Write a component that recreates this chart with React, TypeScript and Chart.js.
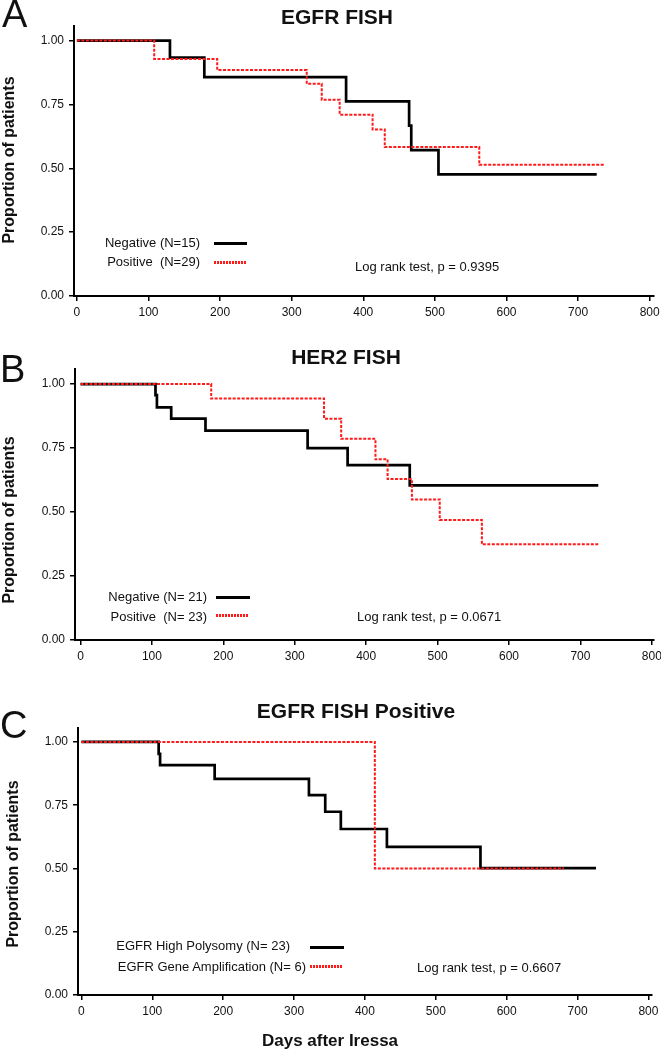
import React, { useEffect, useRef } from 'react';
import { Chart, registerables } from 'chart.js';
Chart.register(...registerables);

// ---------- data ----------
const xTickValues = [0, 100, 200, 300, 400, 500, 600, 700, 800];
const yTickValues = [0, 0.25, 0.5, 0.75, 1];

// Panel A: EGFR FISH
const aNegDays = [0, 130, 178, 376, 464, 467, 505, 726];
const aNegSurv = [1, 0.933, 0.857, 0.762, 0.667, 0.571, 0.476, 0.476];
const aPosDays = [0, 108, 196, 321, 342, 367, 413, 430, 562, 737];
const aPosSurv = [1, 0.928, 0.885, 0.831, 0.768, 0.71, 0.652, 0.583, 0.514, 0.514];

// Panel B: HER2 FISH
const bNegDays = [0, 105, 107, 127, 175, 318, 374, 461, 725];
const bNegSurv = [1, 0.957, 0.909, 0.865, 0.818, 0.75, 0.683, 0.604, 0.604];
const bPosDays = [0, 183, 341, 365, 413, 430, 464, 503, 562, 725];
const bPosSurv = [1, 0.944, 0.865, 0.786, 0.706, 0.629, 0.549, 0.469, 0.374, 0.374];

// Panel C: EGFR FISH Positive
const cNegDays = [0, 109, 111, 188, 321, 344, 366, 431, 563, 726];
const cNegSurv = [1, 0.953, 0.908, 0.854, 0.79, 0.724, 0.656, 0.585, 0.501, 0.501];
const cPosDays = [0, 414, 681];
const cPosSurv = [1, 0.5, 0.5];

const titles = ['EGFR FISH', 'HER2 FISH', 'EGFR FISH Positive'];
const letters = ['A', 'B', 'C'];
const negLabels = ['Negative (N=15)', 'Negative (N= 21)', 'EGFR High Polysomy (N= 23)'];
const posLabels = ['Positive  (N=29)', 'Positive  (N= 23)', 'EGFR Gene Amplification (N= 6)'];
const pTexts = ['Log rank test, p = 0.9395', 'Log rank test, p = 0.0671', 'Log rank test, p = 0.6607'];
const yAxisTitle = 'Proportion of patients';
const xAxisTitle = 'Days after Iressa';

// ---------- layout ----------
const W = 661;
const SANS = '"Liberation Sans", Arial, Helvetica, sans-serif';
const RED = '#ff1a1a';

type Panel = {
  top: number; height: number;
  area: { left: number; right: number; top: number; bottom: number };
  xMin: number; xMax: number; yMax: number;
  negDays: number[]; negSurv: number[]; posDays: number[]; posSurv: number[];
};

const panels: Panel[] = [
  { top: 0, height: 330, area: { left: 74, right: 654, top: 26, bottom: 296 }, xMin: -4, xMax: 806, yMax: 1.057,
    negDays: aNegDays, negSurv: aNegSurv, posDays: aPosDays, posSurv: aPosSurv },
  { top: 330, height: 350, area: { left: 75, right: 654, top: 39, bottom: 310 }, xMin: -7.7, xMax: 803, yMax: 1.059,
    negDays: bNegDays, negSurv: bNegSurv, posDays: bPosDays, posSurv: bPosSurv },
  { top: 680, height: 370, area: { left: 78, right: 652, top: 48, bottom: 315 }, xMin: -4.8, xMax: 805, yMax: 1.055,
    negDays: cNegDays, negSurv: cNegSurv, posDays: cPosDays, posSurv: cPosSurv },
];

// overlay positions (page coords)
const overlay = [
  { letter: { x: 2, y: 14 }, title: { x: 337, y: 16 }, yTitle: { x: 9, y: 160 },
    neg: { right: 200, y: 242, lx1: 214, lx2: 247, ly: 243 },
    pos: { right: 200, y: 261, lx1: 214, lx2: 247, ly: 262 },
    p: { x: 355, y: 266 } },
  { letter: { x: 0, y: 369 }, title: { x: 346, y: 356 }, yTitle: { x: 9, y: 520 },
    neg: { right: 207, y: 596, lx1: 216, lx2: 250, ly: 597 },
    pos: { right: 207, y: 616, lx1: 216, lx2: 248, ly: 615 },
    p: { x: 357, y: 616 } },
  { letter: { x: 0, y: 725 }, title: { x: 356, y: 710 }, yTitle: { x: 13, y: 864 },
    neg: { right: 290, y: 945, lx1: 310, lx2: 344, ly: 947 },
    pos: { right: 306, y: 966, lx1: 310, lx2: 342, ly: 966 },
    p: { x: 417, y: 967 } },
];

const Y_AXIS_W = 50;
const X_AXIS_H = 30;

// draws tick labels at fixed offsets from the axes
const tickLabels = {
  id: 'tickLabels',
  afterDraw(chart: any) {
    const ctx = chart.ctx;
    const xs = chart.scales.x;
    const ys = chart.scales.y;
    const area = chart.chartArea;
    ctx.save();
    ctx.fillStyle = '#111';
    ctx.font = `12px ${SANS}`;
    ctx.textBaseline = 'middle';
    ctx.textAlign = 'center';
    xTickValues.forEach((v) => {
      ctx.fillText(String(v), xs.getPixelForValue(v), area.bottom + 17);
    });
    ctx.textAlign = 'right';
    yTickValues.forEach((v) => {
      ctx.fillText(v.toFixed(2), area.left - 10, ys.getPixelForValue(v));
    });
    ctx.restore();
  },
};

function PanelChart({ p }: { p: Panel }) {
  const ref = useRef<HTMLCanvasElement | null>(null);
  useEffect(() => {
    if (!ref.current) return;
    const pts = (d: number[], s: number[]) => d.map((x, i) => ({ x, y: s[i] }));
    const chart = new Chart(ref.current, {
      type: 'line',
      data: {
        datasets: [
          { data: pts(p.posDays, p.posSurv), borderColor: RED, borderWidth: 2, borderDash: [3, 1.5],
            stepped: 'before', pointRadius: 0, fill: false, borderCapStyle: 'butt' },
          { data: pts(p.negDays, p.negSurv), borderColor: '#000', borderWidth: 2.7,
            stepped: 'before', pointRadius: 0, fill: false, borderCapStyle: 'butt' },
        ],
      } as any,
      options: {
        animation: false,
        responsive: false,
        events: [],
        layout: {
          padding: {
            left: p.area.left - Y_AXIS_W,
            right: W - p.area.right,
            top: p.area.top,
            bottom: p.height - p.area.bottom - X_AXIS_H,
          },
        },
        plugins: { legend: { display: false }, tooltip: { enabled: false }, title: { display: false } },
        scales: {
          x: {
            type: 'linear', min: p.xMin, max: p.xMax,
            afterBuildTicks: (s: any) => { s.ticks = xTickValues.map((v) => ({ value: v })); },
            afterFit: (s: any) => { s.height = X_AXIS_H; s.paddingLeft = 0; s.paddingRight = 0; },
            grid: { display: true, drawOnChartArea: false, drawTicks: true, tickLength: 5, color: '#000', lineWidth: 1.5 },
            border: { display: true, color: '#000', width: 2 },
            ticks: { display: false, autoSkip: false },
          },
          y: {
            type: 'linear', min: 0, max: p.yMax,
            afterBuildTicks: (s: any) => { s.ticks = yTickValues.map((v) => ({ value: v })); },
            afterFit: (s: any) => { s.width = Y_AXIS_W; s.paddingTop = 0; s.paddingBottom = 0; },
            grid: { display: true, drawOnChartArea: false, drawTicks: true, tickLength: 5, color: '#000', lineWidth: 1.5 },
            border: { display: true, color: '#000', width: 2 },
            ticks: { display: false, autoSkip: false },
          },
        },
      } as any,
      plugins: [tickLabels],
    });
    return () => chart.destroy();
  }, [p]);
  return (
    <canvas ref={ref} width={W} height={p.height}
      style={{ position: 'absolute', left: 0, top: p.top, width: W, height: p.height }} />
  );
}

function Txt({ x, y, size, bold, anchor, children }: any) {
  const style: any = {
    position: 'absolute', top: y - size / 2, fontSize: size, lineHeight: `${size}px`,
    fontFamily: SANS, fontWeight: bold ? 'bold' : 'normal', whiteSpace: 'pre', color: '#111',
  };
  if (anchor === 'right') style.right = W - x;
  else if (anchor === 'center') { style.left = x; style.transform = 'translateX(-50%)'; }
  else style.left = x;
  return <div style={style}>{children}</div>;
}

export default function App() {
  useEffect(() => {
    document.body.style.margin = '0';
  }, []);
  return (
    <div style={{ position: 'absolute', left: 0, top: 0, width: W, height: 1050, background: '#fff', overflow: 'hidden' }}>
      {panels.map((p, i) => <PanelChart key={i} p={p} />)}
      {overlay.map((o, i) => (
        <React.Fragment key={i}>
          <Txt x={o.letter.x} y={o.letter.y} size={38}>{letters[i]}</Txt>
          <Txt x={o.title.x} y={o.title.y} size={21} bold anchor="center">{titles[i]}</Txt>
          <div style={{ position: 'absolute', left: o.yTitle.x, top: o.yTitle.y, transform: 'translate(-50%,-50%) rotate(-90deg)',
            fontFamily: SANS, fontWeight: 'bold', fontSize: 16, lineHeight: '16px', whiteSpace: 'nowrap', color: '#111' }}>
            {yAxisTitle}
          </div>
          <Txt x={o.neg.right} y={o.neg.y} size={13} anchor="right">{negLabels[i]}</Txt>
          <Txt x={o.pos.right} y={o.pos.y} size={13} anchor="right">{posLabels[i]}</Txt>
          <div style={{ position: 'absolute', left: o.neg.lx1, top: o.neg.ly - 1.5, width: o.neg.lx2 - o.neg.lx1, height: 3, background: '#000' }} />
          <div style={{ position: 'absolute', left: o.pos.lx1, top: o.pos.ly - 1.5, width: o.pos.lx2 - o.pos.lx1, height: 3,
            background: `repeating-linear-gradient(90deg, ${RED} 0 2px, transparent 2px 3px)` }} />
          <Txt x={o.p.x} y={o.p.y} size={13}>{pTexts[i]}</Txt>
        </React.Fragment>
      ))}
      <Txt x={330} y={1040} size={17} bold anchor="center">{xAxisTitle}</Txt>
    </div>
  );
}
